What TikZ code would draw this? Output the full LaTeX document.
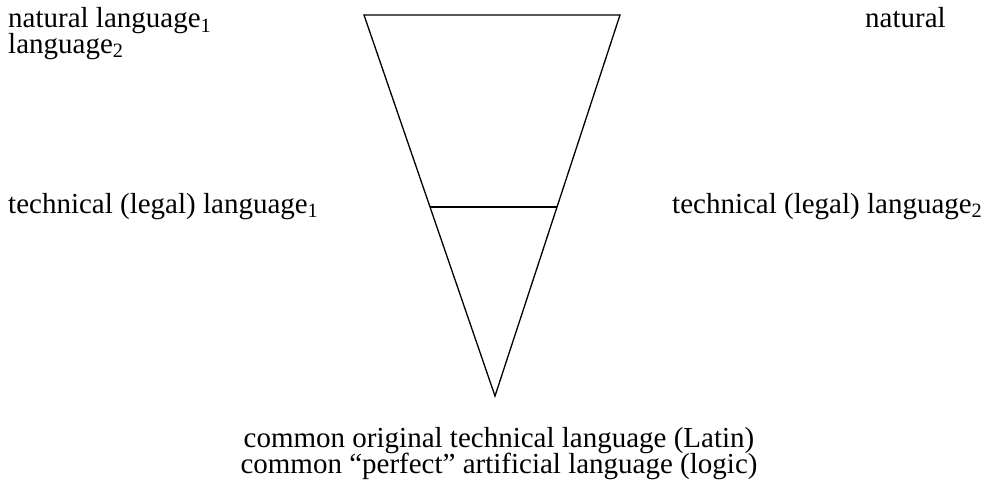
\documentclass[tikz,border=0pt]{standalone}
\usepackage{fontspec}
\setmainfont{Liberation Serif}
\usetikzlibrary{positioning, calc}
\newcommand\tightlines{\lineskiplimit=-100pt\relax}
\tikzset{
  langtext/.style={inner sep=0pt, align=left,
                   font=\fontsize{29}{25.5}\selectfont\tightlines},
  funnel/.style={draw=black, line width=1.3pt, line join=miter}
}

\begin{document}
\begin{tikzpicture}[x=1pt, y=-1pt]
  \useasboundingbox (0,0) rectangle (987,490);

  % Funnel
  \coordinate (tl) at (364,15);
  \coordinate (tr) at (620,15);
  \coordinate (tip) at (495,396);
  \draw[funnel] (tl) -- (tr) -- (tip) -- cycle;
  \coordinate (ml) at ($(tl)!0.504!(tip)$);
  \coordinate (mr) at ($(tr)!0.504!(tip)$);
  \draw[funnel] (ml) -- (mr);

  % Labels (base = last line)
  \node[langtext, anchor=base west] (nat1) at (8,53)
      {natural language\textsubscript{1}\\language\textsubscript{2}};
  \node[langtext, anchor=base west] (nat2) at (865,27) {natural};
  \node[langtext, anchor=base west] (tech1) at (8,213)
      {technical (legal) language\textsubscript{1}};
  \node[langtext, anchor=base west] (tech2) at (672,213)
      {technical (legal) language\textsubscript{2}};
  \node[langtext, align=center, anchor=base] (common) at (499,473)
      {common original technical language (Latin)\\common ``perfect'' artificial language (logic)};

\end{tikzpicture}
\end{document}
